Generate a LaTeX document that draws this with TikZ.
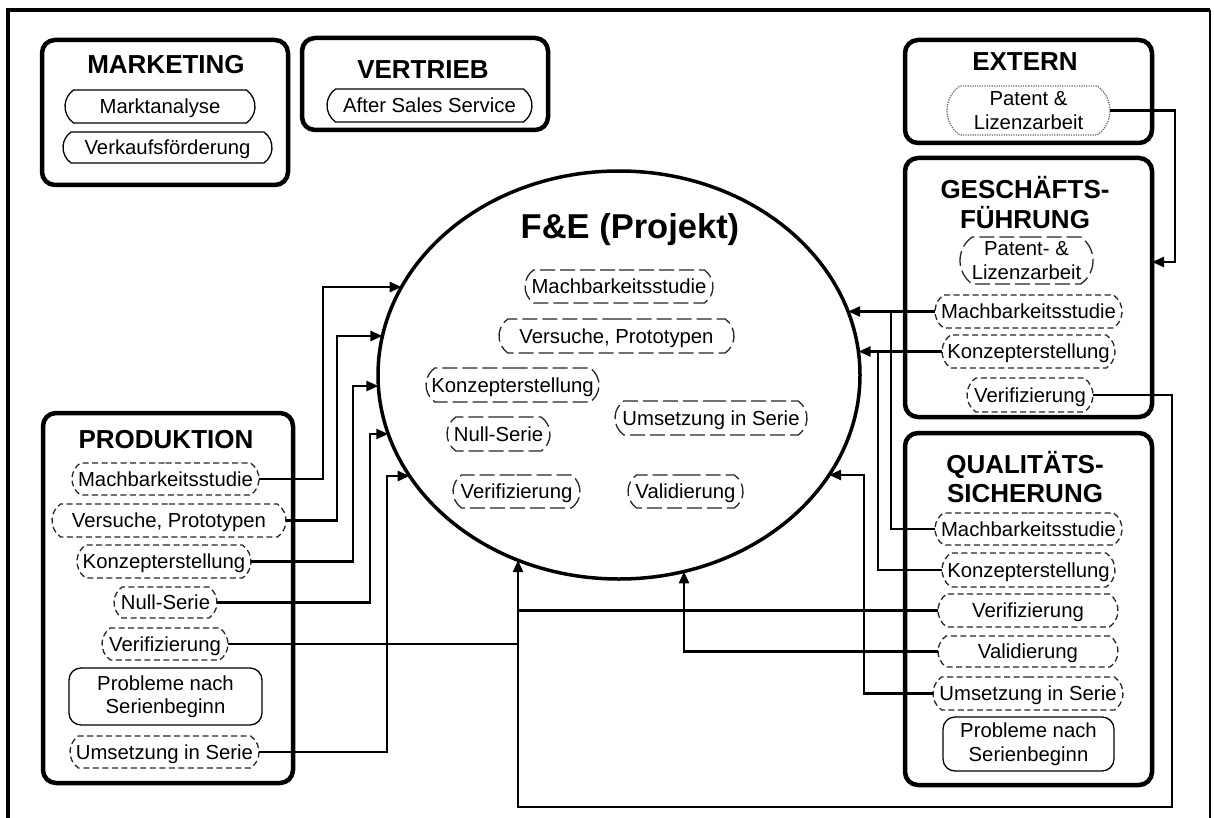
\documentclass[tikz,border=0pt]{standalone}
\usepackage{fontspec}
\setmainfont{Liberation Sans}
\usetikzlibrary{arrows.meta,shapes.misc,shapes.geometric}
\begin{document}
\begin{tikzpicture}[x=1pt,y=-1pt,
  dept/.style={draw,line width=4.5pt,rounded corners=13pt,inner sep=0pt,outer sep=0pt},
  head/.style={font=\fontsize{26}{29.5}\selectfont\bfseries,align=center,inner sep=0pt},
  pillbase/.style={rounded rectangle,rounded rectangle arc length=110,inner sep=0pt,outer sep=0pt,
    minimum height=33pt,font=\fontsize{20.3}{23.5}\selectfont,align=center,line width=1.3pt,
    text height=14.6pt,text depth=0pt},
  multi/.style={text height={},text depth={}},
  solidpill/.style={pillbase,draw=black},
  dpill/.style={pillbase,draw=black!85,dash pattern=on 6pt off 3.5pt},
  lpill/.style={pillbase,draw=black!85,dash pattern=on 15pt off 5pt},
  opill/.style={pillbase,draw=black!60,dash pattern=on 1.2pt off 1.2pt},
  note/.style={draw,rounded corners=12pt,line width=1.3pt,inner sep=0pt,outer sep=0pt,
    font=\fontsize{20.3}{23.5}\selectfont,align=center},
  conn/.style={line width=2.6pt},
  arr/.style={conn,-{Triangle[length=12pt,width=10pt]}},
]
\fill[white] (0,0) rectangle (1214,818);
\useasboundingbox (0,0) rectangle (1214,818);

% outer frame
\draw[line width=4pt] (8,818) -- (8,10) -- (1210,10);
\draw[line width=2.5pt] (1210,10) -- (1210,818);

% department boxes
\node[dept,minimum width=246pt,minimum height=145pt] (mk) at (165,112.5) {};
\node[dept,minimum width=246pt,minimum height=92pt]  (vt) at (425,84) {};
\node[dept,minimum width=247pt,minimum height=103pt] (ex) at (1028.5,91.5) {};
\node[dept,minimum width=247pt,minimum height=259pt] (gf) at (1028.5,287.5) {};
\node[dept,minimum width=247pt,minimum height=352pt] (qs) at (1028.5,609) {};
\node[dept,minimum width=250pt,minimum height=370pt] (pr) at (168,598) {};

\node[head] (mkh) at (166,65) {MARKETING};
\node[head] (vth) at (423,70) {VERTRIEB};
\node[head] (exh) at (1025,62) {EXTERN};
\node[head] (gfh) at (1025,202.5) {GESCHÄFTS-\\FÜHRUNG};
\node[head] (qsh) at (1025,477) {QUALITÄTS-\\SICHERUNG};
\node[head] (prh) at (166,440) {PRODUKTION};

% marketing / vertrieb
\node[solidpill,minimum width=190pt] (m1) at (160,106.5) {Marktanalyse};
\node[solidpill,minimum width=209pt,minimum height=31pt] (m2) at (167.5,147.5) {Verkaufsförderung};
\node[solidpill,minimum width=205pt] (v1) at (429.5,105.5) {After Sales Service};

% extern
\node[opill,multi,minimum width=163pt,minimum height=49pt] (x1) at (1028.5,110.5) {Patent \&\\Lizenzarbeit};

% geschaeftsfuehrung
\node[lpill,multi,minimum width=133pt,minimum height=47pt] (g1) at (1026.5,260.5) {Patent- \&\\Lizenzarbeit};
\node[dpill,minimum width=187pt] (g2) at (1028.5,311.5) {Machbarkeitsstudie};
\node[dpill,minimum width=173pt] (g3) at (1028.5,351.5) {Konzepterstellung};
\node[dpill,minimum width=126pt,minimum height=34pt] (g4) at (1030,395) {Verifizierung};

% qualitaetssicherung
\node[dpill,minimum width=187pt,minimum height=32pt] (q1) at (1028.5,529) {Machbarkeitsstudie};
\node[dpill,minimum width=173pt,minimum height=34pt] (q2) at (1028.5,570) {Konzepterstellung};
\node[dpill,minimum width=180pt] (q3) at (1028,610.5) {Verifizierung};
\node[dpill,minimum width=180pt,minimum height=31pt] (q4) at (1028,651.5) {Validierung};
\node[dpill,minimum width=190pt] (q5) at (1028,693.5) {Umsetzung in Serie};
\node[note,minimum width=171pt,minimum height=54pt] (q6) at (1028.5,744) {Probleme nach\\Serienbeginn};

% produktion
\node[dpill,minimum width=187pt,minimum height=32pt] (p1) at (165.5,479) {Machbarkeitsstudie};
\node[dpill,minimum width=234pt] (p2) at (169,520.5) {Versuche, Prototypen};
\node[dpill,minimum width=174pt] (p3) at (164,561.5) {Konzepterstellung};
\node[dpill,minimum width=103pt,minimum height=31pt] (p4) at (165.5,602.5) {Null-Serie};
\node[dpill,minimum width=126pt,minimum height=32pt] (p5) at (165,644) {Verifizierung};
\node[note,minimum width=193pt,minimum height=57pt] (p6) at (165.5,696.5) {Probleme nach\\Serienbeginn};
\node[dpill,minimum width=189pt,minimum height=32pt] (p7) at (164.5,752) {Umsetzung in Serie};

% F&E project ellipse
\node[ellipse,draw,line width=3.5pt,minimum width=482pt,minimum height=408pt,inner sep=0pt,outer sep=0pt] (E) at (619,375) {};
\node[font=\fontsize{34.5}{38}\selectfont\bfseries,inner sep=0pt] (feh) at (630,230) {F\&E (Projekt)};
\node[lpill,minimum width=188pt] (i1) at (619,286.5) {Machbarkeitsstudie};
\node[lpill,minimum width=235pt,minimum height=34pt] (i2) at (616.5,336) {Versuche, Prototypen};
\node[lpill,minimum width=173pt,minimum height=34pt] (i3) at (512.5,385) {Konzepterstellung};
\node[lpill,minimum width=192pt,minimum height=34pt] (i4) at (711,418) {Umsetzung in Serie};
\node[lpill,minimum width=103pt,minimum height=34pt] (i5) at (498.5,434) {Null-Serie};
\node[lpill,minimum width=127pt] (i6) at (516.5,491.5) {Verifizierung};
\node[lpill,minimum width=115pt] (i7) at (685.5,491.5) {Validierung};

% points on the ellipse border where the arrows end
\coordinate (e1) at (401.6,287);
\coordinate (e2) at (382.4,336);
\coordinate (e3) at (378.4,386);
\coordinate (e4) at (388.3,434);
\coordinate (e5) at (409.6,476);
\coordinate (e6) at (518,560.2);
\coordinate (e7) at (684,571.4);
\coordinate (e8) at (848.2,311.5);
\coordinate (e9) at (858.6,351.5);
\coordinate (e10) at (829.1,475);
\coordinate (k1) at (1175,262);

% produktion -> F&E
\draw[arr] (p1.east) -| (323,287) -- (e1);
\draw[arr] (p2.east) -| (337,336) -- (e2);
\draw[arr] (p3.east) -| (353,386) -- (e3);
\draw[arr] (p4.east) -| (370,434) -- (e4);
\draw[arr] (p7.east) -| (387,476) -- (e5);
\draw[conn] (p5.east) -- (p5.east -| e6);

% verification bus from the right side
\draw[arr] (g4.east) -| (1172,807) -| (e6);
\draw[conn] (q3.west) -- (q3.west -| e6);

% qualitaetssicherung / geschaeftsfuehrung -> F&E
\draw[arr] (q4.west) -| (e7);
\draw[arr] (q5.west) -| (864,475) -- (e10);
\draw[arr] (g3.west) -- (e9);
\draw[conn] (q2.west) -| (878,351.5);
\draw[arr] (g2.west) -- (e8);
\draw[conn] (q1.west) -| (891,311.5);

% extern -> geschaeftsfuehrung
\draw[arr] (x1.east) -| (k1) -- (k1 -| gf.east);
\end{tikzpicture}
\end{document}
